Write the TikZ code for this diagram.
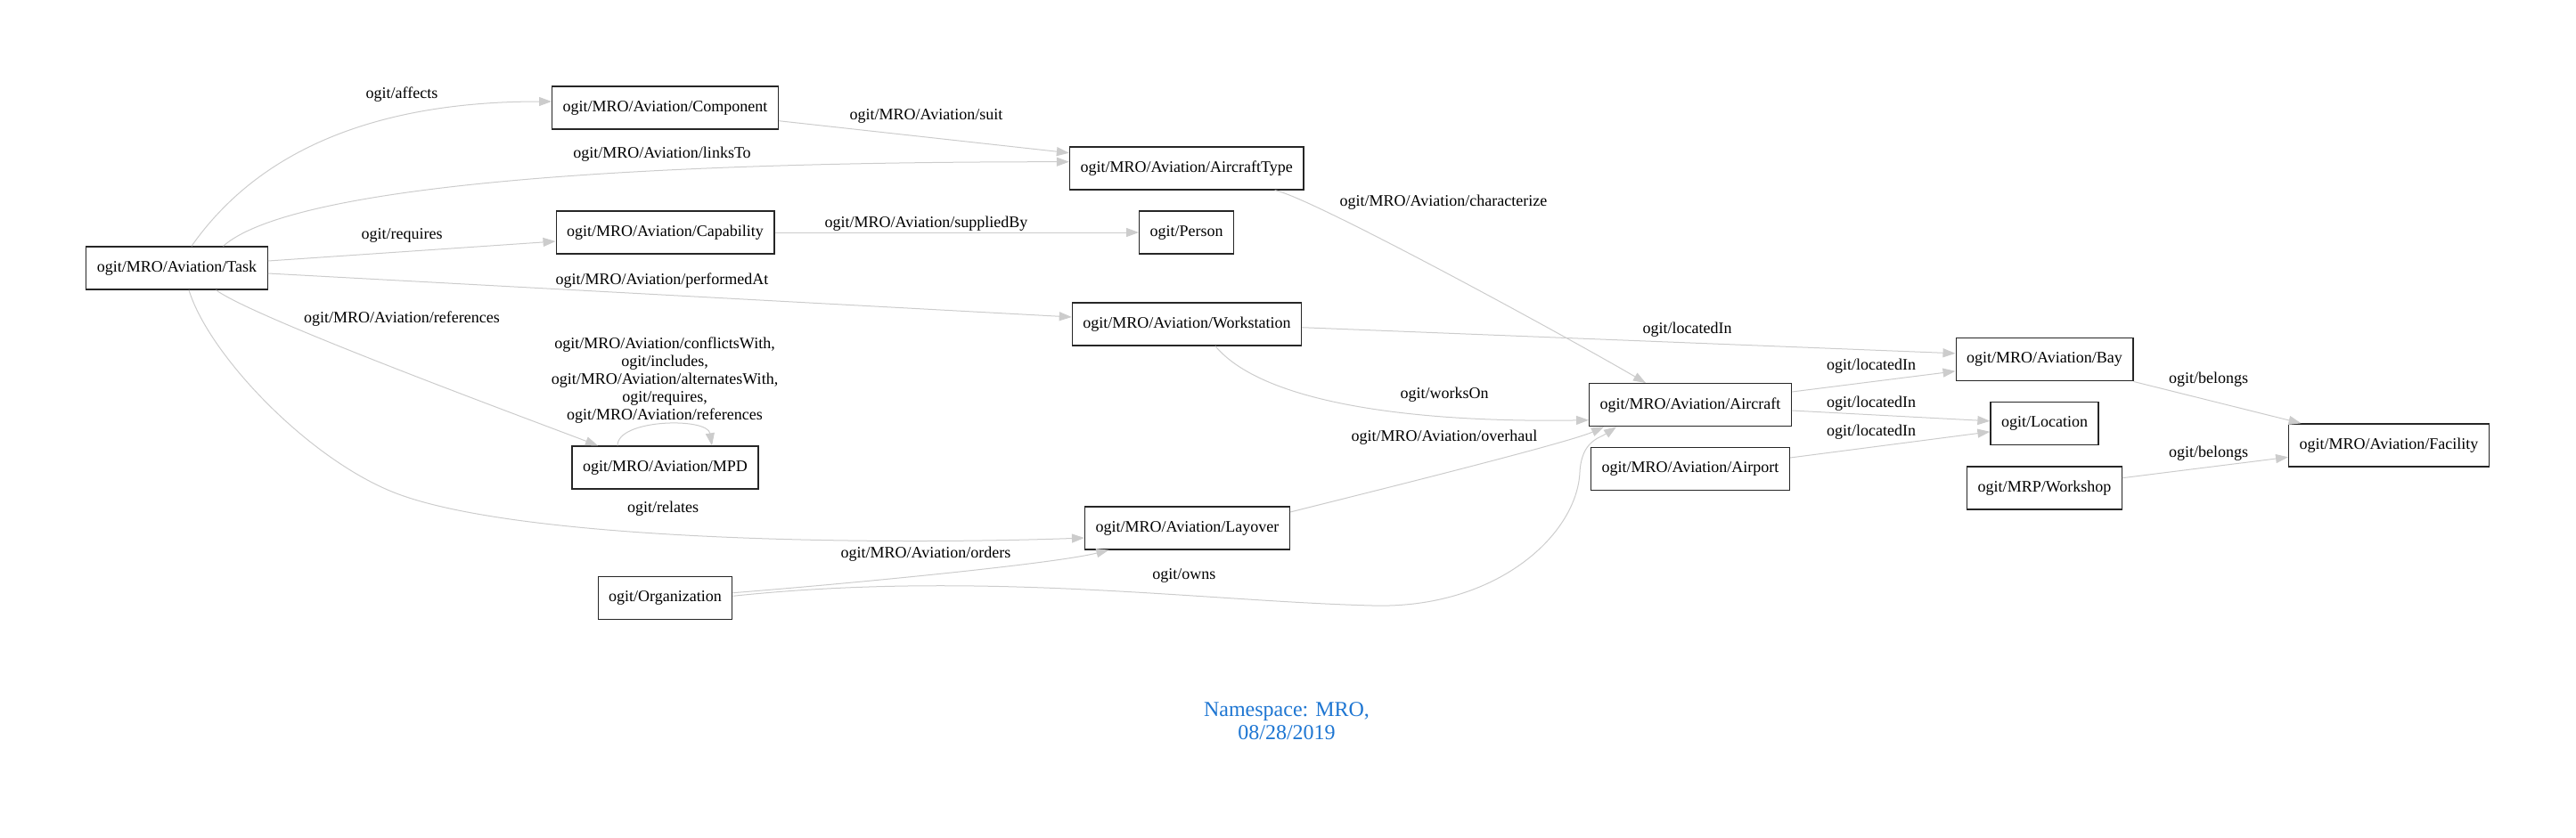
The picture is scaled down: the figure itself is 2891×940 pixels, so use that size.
\documentclass[tikz,border=0pt]{standalone}
\usepackage{fontspec}
\setmainfont{Liberation Serif}
\usetikzlibrary{arrows.meta, calc}
\definecolor{edgegray}{HTML}{CCCCCC}
\definecolor{nsblue}{RGB}{30,118,210}
\tikzset{
  cls/.style={draw=black!85, line width=1pt, minimum height=36pt, inner xsep=9pt,
    font=\fontsize{13.5}{16}\selectfont},
  rel/.style={draw=edgegray, line width=0.75pt, -{Triangle[length=10.5pt,width=7.5pt]}},
  lbl/.style={font=\fontsize{13.5}{15}\selectfont, inner sep=0pt, align=center},
}
\begin{document}
\begin{tikzpicture}[x=0.75pt, y=-0.75pt]
    \useasboundingbox (0,0) rectangle (2891,940);
    % classes
    \node[cls] (task) at (198.5,301) {ogit/MRO/Aviation/Task};
    \node[cls] (comp) at (746.5,121) {ogit/MRO/Aviation/Component};
    \node[cls] (cap) at (746.5,261) {ogit/MRO/Aviation/Capability};
    \node[cls] (mpd) at (746.5,525) {ogit/MRO/Aviation/MPD};
    \node[cls] (org) at (746.5,671.7) {ogit/Organization};
    \node[cls] (atype) at (1331.7,189) {ogit/MRO/Aviation/AircraftType};
    \node[cls] (person) at (1331.7,261) {ogit/Person};
    \node[cls] (ws) at (1332,364) {ogit/MRO/Aviation/Workstation};
    \node[cls] (layover) at (1332.4,593) {ogit/MRO/Aviation/Layover};
    \node[cls] (aircraft) at (1897,454.7) {ogit/MRO/Aviation/Aircraft};
    \node[cls] (airport) at (1897,526.5) {ogit/MRO/Aviation/Airport};
    \node[cls] (bay) at (2294.5,403.8) {ogit/MRO/Aviation/Bay};
    \node[cls] (location) at (2294.5,475.8) {ogit/Location};
    \node[cls] (workshop) at (2294.5,548) {ogit/MRP/Workshop};
    \node[cls] (facility) at (2681,500) {ogit/MRO/Aviation/Facility};
    % relations
    \draw[rel] ($(task.north)+(16.5,0)$) .. controls +(75,-107) and +(-199,0) .. ($(comp.west)+(0,-7)$);
    \draw[rel] ($(task.north)+(52,0)$) .. controls +(70,-62) and +(-550,0) .. ($(atype.west)+(0,-7.3)$);
    \draw[rel] ($(task.east)+(0,-8)$) -- ($(cap.west)+(0,10)$);
    \draw[rel] ($(task.east)+(0,6)$) -- ($(ws.west)+(0,-8)$);
    \draw[rel] ($(task.south)+(44,0)$) .. controls +(40,30) and +(-100,-38) .. ($(mpd.north)+(-75.5,0)$);
    \draw[rel] ($(task.south)+(13.5,0)$) .. controls +(23,75) and (353,523) .. (453,557)
      .. controls (603,608.6) and +(-217,8) .. ($(layover.west)+(0,11)$);
    \draw[rel] ($(mpd.north)+(-53.5,0)$) .. controls +(0,-30) and +(-5,-32) .. ($(mpd.north)+(52.5,0)$);
    \draw[rel] ($(comp.east)+(0,14.7)$) -- ($(atype.west)+(0,-17.3)$);
    \draw[rel] (cap.east) -- (person.west);
    \draw[rel] ($(atype.south)+(99,0)$) .. controls +(39,7) and +(-87,-51) .. ($(aircraft.north)+(-50,0)$);
    \draw[rel] ($(ws.east)+(0,3.7)$) -- ($(bay.west)+(0,-7)$);
    \draw[rel] ($(ws.south)+(32,0)$) .. controls +(56,67) and +(-184,3) .. ($(aircraft.west)+(0,17)$);
    \draw[rel] ($(layover.east)+(0,-18)$) .. controls +(80,-20) and +(-40,18) .. ($(aircraft.south)+(-97,0)$);
    \draw[rel] ($(org.east)+(0,-6)$) .. controls +(150,-12) and +(-60,15) .. ($(layover.south)+(-88,0)$);
    \draw[rel] ($(org.east)+(0,-2.4)$) .. controls (1100,640) and (1350,675) .. (1540,680)
      .. controls (1680,684) and (1770,600) .. (1773,530)
      .. controls (1775,495) and (1795,492) .. ($(aircraft.south)+(-83,0)$);
    \draw[rel] ($(aircraft.east)+(0,-14.7)$) -- ($(bay.west)+(0,13)$);
    \draw[rel] ($(aircraft.east)+(0,6.3)$) -- ($(location.west)+(0,-3)$);
    \draw[rel] ($(airport.east)+(0,-12.5)$) -- ($(location.west)+(0,9)$);
    \draw[rel] (bay.south east) -- ($(facility.north)+(-98.5,0)$);
    \draw[rel] ($(workshop.east)+(0,-11.3)$) -- ($(facility.west)+(0,13.3)$);
    % relation labels
    \node[lbl] (lbAffects) at (451,105.7) {ogit/affects};
    \node[lbl] (lbLinksTo) at (743,172.7) {ogit/MRO/Aviation/linksTo};
    \node[lbl] (lbRequires) at (451,264.7) {ogit/requires};
    \node[lbl] (lbPerformedAt) at (743,315) {ogit/MRO/Aviation/performedAt};
    \node[lbl] (lbReferences) at (451,357.7) {ogit/MRO/Aviation/references};
    \node[lbl] (lbMpdLoop) at (746,427) {ogit/MRO/Aviation/conflictsWith,\\ogit/includes,\\
      ogit/MRO/Aviation/alternatesWith,\\ogit/requires,\\ogit/MRO/Aviation/references};
    \node[lbl] (lbRelates) at (744,570.7) {ogit/relates};
    \node[lbl] (lbSuit) at (1039.5,130) {ogit/MRO/Aviation/suit};
    \node[lbl] (lbSuppliedBy) at (1039.5,251) {ogit/MRO/Aviation/suppliedBy};
    \node[lbl] (lbCharacterize) at (1620,226.7) {ogit/MRO/Aviation/characterize};
    \node[lbl] (lbWorksOn) at (1621,443.3) {ogit/worksOn};
    \node[lbl] (lbOverhaul) at (1621,491) {ogit/MRO/Aviation/overhaul};
    \node[lbl] (lbOrders) at (1039,622.3) {ogit/MRO/Aviation/orders};
    \node[lbl] (lbOwns) at (1328.8,646.7) {ogit/owns};
    \node[lbl] (lbWsBay) at (1893.6,370) {ogit/locatedIn};
    \node[lbl] (lbAcBay) at (2100,411) {ogit/locatedIn};
    \node[lbl] (lbAcLoc) at (2100,452.7) {ogit/locatedIn};
    \node[lbl] (lbApLoc) at (2100,484.7) {ogit/locatedIn};
    \node[lbl] (lbBayFac) at (2478.7,426.3) {ogit/belongs};
    \node[lbl] (lbShopFac) at (2478.7,509.3) {ogit/belongs};
    % namespace caption
    \node[font=\fontsize{18}{19.5}\selectfont, text=nsblue, align=center] (ns) at (1444,810)
      {Namespace: MRO,\\08/28/2019};
\end{tikzpicture}
\end{document}
